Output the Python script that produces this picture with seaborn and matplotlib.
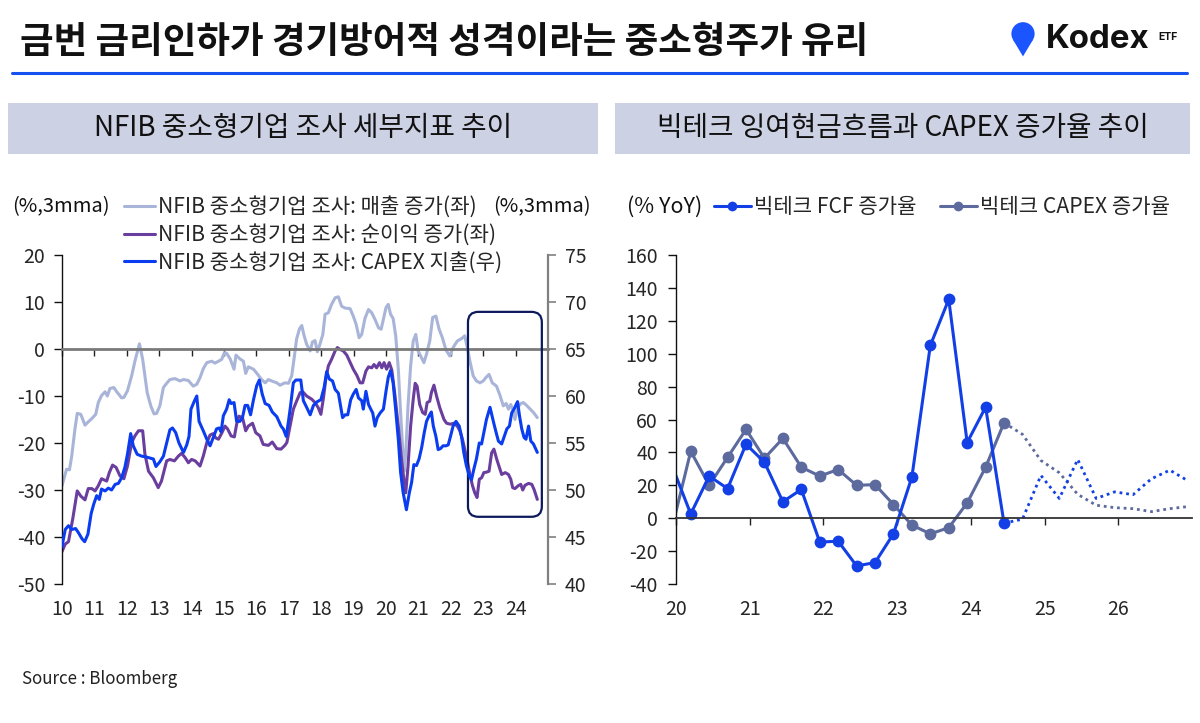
import numpy as np
import pandas as pd
import matplotlib
matplotlib.use("Agg")
from matplotlib import pyplot as plt
from matplotlib.lines import Line2D
from matplotlib.patches import Rectangle, FancyBboxPatch, Polygon, Circle
import seaborn as sns

# ---------------- left panel: NFIB survey (decimal years, 3mma) ----------------
sales_year = [2010.00, 2010.14, 2010.23, 2010.30, 2010.40, 2010.47, 2010.58, 2010.71, 2010.81, 2010.92,
              2011.04, 2011.12, 2011.22, 2011.33, 2011.40, 2011.48, 2011.60, 2011.69, 2011.84, 2011.91,
              2012.02, 2012.15, 2012.25, 2012.39, 2012.49, 2012.63, 2012.74, 2012.84, 2012.92, 2013.02,
              2013.13, 2013.23, 2013.33, 2013.49, 2013.64, 2013.75, 2013.90, 2014.05, 2014.16, 2014.26,
              2014.36, 2014.47, 2014.62, 2014.72, 2014.83, 2014.93, 2015.01, 2015.08, 2015.19, 2015.31,
              2015.37, 2015.49, 2015.60, 2015.67, 2015.75, 2015.91, 2016.04, 2016.16, 2016.27, 2016.37,
              2016.47, 2016.63, 2016.73, 2016.88, 2016.99, 2017.09, 2017.16, 2017.24, 2017.33, 2017.40,
              2017.47, 2017.55, 2017.66, 2017.73, 2017.81, 2017.88, 2017.96, 2018.05, 2018.12, 2018.22,
              2018.32, 2018.43, 2018.53, 2018.63, 2018.74, 2018.89, 2018.99, 2019.08, 2019.17, 2019.25,
              2019.35, 2019.46, 2019.56, 2019.66, 2019.77, 2019.85, 2019.94, 2020.00, 2020.07, 2020.14,
              2020.22, 2020.30, 2020.38, 2020.45, 2020.51, 2020.56, 2020.61, 2020.68, 2020.76, 2020.84,
              2020.92, 2020.99, 2021.07, 2021.17, 2021.25, 2021.35, 2021.44, 2021.54, 2021.64, 2021.74,
              2021.85, 2021.97, 2022.07, 2022.20, 2022.33, 2022.43, 2022.51, 2022.59, 2022.69, 2022.79,
              2022.90, 2023.00, 2023.08, 2023.18, 2023.28, 2023.41, 2023.52, 2023.62, 2023.71, 2023.78,
              2023.85, 2023.93, 2023.98, 2024.06, 2024.16, 2024.24, 2024.34, 2024.45, 2024.55, 2024.67]
sales_val = [-29.1, -25.6, -25.7, -22.8, -17.0, -13.7, -13.9, -16.2, -15.5, -14.8,
             -13.9, -11.4, -9.9, -9.1, -10.0, -8.4, -8.2, -9.1, -10.4, -10.3,
             -8.9, -5.7, -2.6, 1.1, -2.2, -9.3, -12.1, -13.8, -13.7, -12.1,
             -8.2, -7.3, -6.5, -6.3, -6.8, -6.5, -6.7, -7.9, -7.5, -6.1,
             -4.2, -2.9, -2.6, -3.0, -2.6, -2.2, -0.8, -0.9, -2.1, -4.3,
             -1.3, -2.1, -2.6, -5.2, -3.8, -4.3, -5.4, -6.5, -7.2, -6.5,
             -6.8, -7.2, -7.7, -7.2, -7.3, -5.7, -2.2, 2.1, 4.3, 5.0,
             2.9, 1.0, -0.4, 1.5, 1.8, -0.6, 1.0, 3.1, 7.4, 7.7,
             9.5, 10.9, 11.1, 9.1, 8.7, 8.6, 7.0, 5.2, 2.4, 3.1,
             6.5, 8.4, 7.7, 6.3, 4.5, 4.2, 7.0, 8.8, 9.5, 7.4,
             6.5, 2.8, -4.3, -13.5, -20.6, -26.0, -22.1, -12.1, -3.6, 1.7,
             3.1, -0.4, -1.5, -2.9, -1.1, 1.7, 6.7, 7.0, 4.2, 2.4,
             -0.2, -1.5, 0.3, 1.7, 2.2, 2.8, 0.3, -2.6, -5.7, -6.8,
             -7.2, -6.8, -6.1, -5.4, -7.2, -7.9, -9.9, -12.1, -11.6, -12.8,
             -11.8, -13.2, -15.0, -12.5, -11.6, -11.4, -12.0, -12.8, -13.5, -14.6]

profit_year = [2010.00, 2010.10, 2010.20, 2010.33, 2010.47, 2010.58, 2010.71, 2010.81, 2010.92, 2011.02,
               2011.12, 2011.22, 2011.38, 2011.46, 2011.56, 2011.67, 2011.79, 2011.91, 2012.02, 2012.15,
               2012.25, 2012.36, 2012.49, 2012.56, 2012.67, 2012.82, 2012.97, 2013.07, 2013.23, 2013.33,
               2013.47, 2013.59, 2013.69, 2013.80, 2013.90, 2014.00, 2014.11, 2014.26, 2014.36, 2014.47,
               2014.57, 2014.67, 2014.74, 2014.83, 2014.93, 2015.03, 2015.11, 2015.22, 2015.32, 2015.39,
               2015.46, 2015.57, 2015.67, 2015.75, 2015.88, 2015.98, 2016.11, 2016.21, 2016.37, 2016.49,
               2016.63, 2016.76, 2016.88, 2016.94, 2017.04, 2017.14, 2017.24, 2017.35, 2017.43, 2017.55,
               2017.71, 2017.81, 2017.91, 2017.99, 2018.07, 2018.14, 2018.22, 2018.32, 2018.43, 2018.50,
               2018.58, 2018.68, 2018.79, 2018.89, 2018.99, 2019.10, 2019.20, 2019.28, 2019.38, 2019.46,
               2019.56, 2019.63, 2019.71, 2019.80, 2019.87, 2019.94, 2020.02, 2020.10, 2020.18, 2020.27,
               2020.38, 2020.48, 2020.55, 2020.61, 2020.68, 2020.76, 2020.84, 2020.90, 2020.96, 2021.04,
               2021.13, 2021.21, 2021.27, 2021.35, 2021.40, 2021.48, 2021.56, 2021.66, 2021.79, 2021.87,
               2021.99, 2022.09, 2022.20, 2022.28, 2022.36, 2022.43, 2022.51, 2022.59, 2022.67, 2022.74,
               2022.81, 2022.88, 2022.95, 2023.02, 2023.10, 2023.18, 2023.26, 2023.33, 2023.42, 2023.50,
               2023.57, 2023.68, 2023.78, 2023.85, 2023.91, 2023.98, 2024.08, 2024.16, 2024.22, 2024.29,
               2024.40, 2024.50, 2024.57, 2024.67]
profit_val = [-43.1, -41.5, -41.0, -36.2, -30.2, -31.3, -32.1, -29.7, -29.7, -30.2,
              -29.1, -27.6, -28.1, -26.3, -24.7, -25.2, -27.0, -27.6, -24.9, -19.9,
              -18.5, -17.4, -17.4, -22.4, -26.0, -27.4, -29.5, -28.1, -23.8, -23.5,
              -23.8, -22.8, -22.2, -23.1, -24.2, -23.5, -23.8, -24.9, -22.8, -19.9,
              -18.3, -18.0, -18.9, -19.2, -17.9, -16.4, -17.0, -18.5, -18.7, -16.0,
              -14.3, -14.6, -17.4, -16.4, -15.8, -17.8, -18.5, -20.3, -20.5, -19.8,
              -21.2, -21.3, -20.5, -19.9, -16.4, -12.8, -11.1, -9.3, -9.1, -10.0,
              -10.7, -11.4, -12.5, -13.9, -10.4, -6.5, -3.6, -2.2, -0.4, 0.3,
              -0.1, -0.4, -1.3, -2.8, -4.3, -5.6, -7.2, -7.2, -4.7, -3.8,
              -4.0, -3.3, -4.0, -2.9, -4.0, -2.9, -4.3, -2.9, -4.5, -9.5,
              -16.5, -23.5, -27.7, -30.6, -24.9, -16.4, -10.7, -7.3, -7.9, -11.8,
              -13.5, -13.9, -11.4, -11.1, -9.3, -7.7, -10.0, -12.5, -15.0, -15.8,
              -16.0, -15.8, -16.4, -17.4, -19.2, -21.3, -23.8, -26.7, -29.1, -30.6,
              -31.6, -27.7, -27.4, -26.3, -26.2, -26.0, -22.1, -21.3, -23.5, -25.2,
              -26.7, -26.3, -26.7, -27.7, -29.5, -29.7, -29.1, -28.8, -30.0, -29.0,
              -28.6, -28.8, -29.9, -32.0]

capex_year = [2010.00, 2010.10, 2010.20, 2010.30, 2010.42, 2010.50, 2010.62, 2010.70, 2010.80, 2010.90,
              2010.98, 2011.07, 2011.15, 2011.22, 2011.33, 2011.43, 2011.53, 2011.64, 2011.74, 2011.84,
              2011.94, 2012.02, 2012.12, 2012.20, 2012.32, 2012.46, 2012.61, 2012.71, 2012.82, 2012.90,
              2013.02, 2013.13, 2013.23, 2013.33, 2013.41, 2013.51, 2013.61, 2013.75, 2013.85, 2013.92,
              2013.98, 2014.09, 2014.16, 2014.23, 2014.36, 2014.47, 2014.57, 2014.67, 2014.77, 2014.85,
              2014.91, 2014.98, 2015.08, 2015.16, 2015.22, 2015.31, 2015.39, 2015.49, 2015.57, 2015.65,
              2015.73, 2015.82, 2015.91, 2016.01, 2016.09, 2016.18, 2016.27, 2016.39, 2016.49, 2016.63,
              2016.76, 2016.83, 2016.92, 2016.99, 2017.06, 2017.14, 2017.22, 2017.37, 2017.45, 2017.55,
              2017.66, 2017.76, 2017.88, 2017.99, 2018.09, 2018.17, 2018.25, 2018.35, 2018.43, 2018.53,
              2018.60, 2018.66, 2018.74, 2018.82, 2018.91, 2018.99, 2019.08, 2019.15, 2019.25, 2019.30,
              2019.38, 2019.46, 2019.53, 2019.59, 2019.66, 2019.73, 2019.82, 2019.92, 2020.00, 2020.07,
              2020.14, 2020.22, 2020.30, 2020.38, 2020.45, 2020.53, 2020.63, 2020.72, 2020.79, 2020.86,
              2020.94, 2021.02, 2021.10, 2021.18, 2021.25, 2021.33, 2021.40, 2021.46, 2021.54, 2021.61,
              2021.68, 2021.76, 2021.85, 2021.92, 2021.99, 2022.07, 2022.16, 2022.26, 2022.33, 2022.40,
              2022.48, 2022.57, 2022.64, 2022.71, 2022.79, 2022.88, 2022.95, 2023.02, 2023.10, 2023.21,
              2023.32, 2023.40, 2023.47, 2023.57, 2023.65, 2023.73, 2023.81, 2023.88, 2023.95, 2024.06,
              2024.12, 2024.19, 2024.26, 2024.32, 2024.40, 2024.47, 2024.55, 2024.67]
capex_val = [44.0, 45.8, 46.2, 45.8, 45.9, 45.5, 44.8, 44.5, 45.3, 47.5,
             48.5, 49.4, 49.0, 50.1, 49.9, 50.2, 50.0, 50.6, 50.7, 51.3,
             52.4, 53.8, 56.0, 54.7, 53.8, 53.6, 53.5, 53.4, 53.3, 52.5,
             53.0, 53.6, 55.0, 56.4, 56.6, 56.1, 55.0, 54.0, 54.8, 55.7,
             58.6, 59.5, 60.0, 57.3, 56.3, 55.4, 54.7, 55.6, 56.5, 56.6,
             56.2, 57.9, 58.6, 59.6, 59.2, 59.3, 57.3, 57.3, 57.7, 59.0,
             59.0, 58.0, 59.6, 61.1, 61.7, 60.2, 59.2, 59.0, 58.3, 57.8,
             56.8, 56.5, 55.7, 57.3, 59.1, 61.4, 61.7, 61.7, 59.5, 58.8,
             58.0, 59.0, 59.4, 59.6, 60.9, 62.6, 61.8, 61.6, 60.7, 60.3,
             58.9, 57.7, 58.0, 58.0, 59.6, 60.2, 60.7, 59.8, 59.5, 58.6,
             60.5, 59.1, 58.6, 58.2, 56.8, 57.7, 58.2, 58.6, 60.5, 62.0,
             62.7, 61.4, 58.5, 55.4, 51.9, 49.7, 47.9, 49.7, 50.8, 52.7,
             52.6, 53.3, 54.5, 56.1, 57.3, 57.9, 58.3, 56.8, 55.7, 54.3,
             54.4, 54.7, 54.7, 54.8, 55.7, 56.8, 57.3, 56.8, 55.7, 54.0,
             52.6, 51.5, 51.1, 52.2, 53.3, 55.0, 54.9, 56.1, 57.5, 58.8,
             57.2, 56.1, 55.2, 54.9, 55.7, 56.5, 56.8, 58.2, 58.6, 59.4,
             57.9, 56.5, 55.6, 55.4, 56.8, 55.2, 54.9, 54.0]

left_years = list(range(2010, 2025))
left_labels = [str(y)[2:] for y in left_years]

# ---------------- right panel: big tech FCF / CAPEX growth (% YoY) ----------------
bt_year = [2019.95, 2020.20, 2020.45, 2020.70, 2020.95, 2021.20, 2021.45, 2021.70, 2021.95, 2022.20,
           2022.45, 2022.70, 2022.95, 2023.20, 2023.45, 2023.70, 2023.95, 2024.20, 2024.45]
fcf_val = [31.4, 2.6, 25.6, 18.0, 45.0, 34.0, 10.0, 17.5, -14.5, -14.0,
           -29.0, -27.0, -9.5, 25.0, 105.0, 133.0, 46.0, 67.5, -3.0]
bt_capex_val = [-5.2, 40.7, 20.0, 37.0, 54.0, 36.5, 48.5, 31.0, 25.6, 29.6,
                20.0, 20.4, 8.3, -4.2, -9.5, -5.8, 9.3, 31.0, 58.0]
fc_year = [2024.45, 2024.70, 2024.95, 2025.20, 2025.45, 2025.70, 2025.95, 2026.20, 2026.45, 2026.70, 2026.95]
fcf_fc = [-3.0, -0.6, 26.0, 12.0, 35.7, 12.0, 16.0, 14.3, 24.0, 29.2, 22.6]
bt_capex_fc = [58.0, 51.0, 35.1, 27.6, 14.5, 7.9, 6.4, 5.8, 4.0, 5.8, 7.1]
right_years = list(range(2020, 2027))
right_labels = [str(y)[2:] for y in right_years]

C_SALES = "#a9b4d9"
C_PROFIT = "#6a3e9e"
C_CAPEX = "#0b3df0"
C_FCF = "#1240e6"
C_BTCAPEX = "#5d6a9d"

sns.set_theme(style="ticks")
plt.rcParams['font.family'] = ['Noto Sans CJK KR', 'DejaVu Sans']
plt.rcParams['axes.unicode_minus'] = False

W, H = 1200, 723
fig = plt.figure(figsize=(12, 7.23), dpi=100)


def fx(px):
    return px / W


def fy(py):
    return 1 - py / H


# header
fig.text(fx(20), fy(42), "금번 금리인하가 경기방어적 성격이라는 중소형주가 유리",
         fontsize=26.3, fontweight='bold', va='center', ha='left', color='#111111')
fig.add_artist(Line2D([fx(12), fx(1187)], [fy(73), fy(73)], color='#1652f0', lw=2.2))
fig.text(fx(1046), fy(40), "Kodex", fontsize=23.8, fontweight='bold', va='center', ha='left',
         color='#111111', family=['Inter', 'DejaVu Sans'])
fig.text(fx(1158), fy(37), "ETF", fontsize=7.5, fontweight='bold', va='center', ha='left',
         color='#111111', family=['Inter', 'DejaVu Sans'])
logo = fig.add_axes([fx(1008), fy(57), fx(30), 36 / H])
logo.set_xlim(-1.2, 1.2)
logo.set_ylim(-2.0, 1.1)
logo.set_aspect('equal')
logo.axis('off')
logo.add_patch(Circle((0, 0), 1.0, color='#1a55ff', lw=0))
logo.add_patch(Polygon([(-0.85, -0.53), (0.85, -0.53), (0, -1.95)], closed=True, color='#1a55ff', lw=0))

# panel title bars
for x0, x1, txt in [(8, 598, "NFIB 중소형기업 조사 세부지표 추이"),
                    (615, 1190, "빅테크 잉여현금흐름과 CAPEX 증가율 추이")]:
    fig.add_artist(Rectangle((fx(x0), fy(154)), fx(x1 - x0), 51 / H,
                             transform=fig.transFigure, color='#cdd1e4', lw=0))
    fig.text(fx((x0 + x1) / 2), fy(128), txt, fontsize=20, ha='center', va='center', color='#111111')

fig.text(fx(22), fy(679), "Source : Bloomberg", fontsize=12.2, ha='left', va='center', color='#222222')

TICK_FS = 14
LEG_FS = 15.2

# ---------------- left panel ----------------
ax = fig.add_axes([fx(62), fy(584), fx(548 - 62), 329 / H])
ax2 = ax.twinx()
df_s = pd.DataFrame({'year': sales_year, 'v': sales_val})
df_p = pd.DataFrame({'year': profit_year, 'v': profit_val})
df_c = pd.DataFrame({'year': capex_year, 'v': capex_val})
sns.lineplot(data=df_s, x='year', y='v', ax=ax, color=C_SALES, lw=2.2, legend=False, errorbar=None)
sns.lineplot(data=df_p, x='year', y='v', ax=ax, color=C_PROFIT, lw=2.2, legend=False, errorbar=None)
sns.lineplot(data=df_c, x='year', y='v', ax=ax2, color=C_CAPEX, lw=2.2, legend=False, errorbar=None)

ax.set_xlim(2010, 2025)
ax.set_ylim(-50, 20)
ax2.set_ylim(40, 75)
ax.set_yticks(range(-50, 21, 10))
ax2.set_yticks(range(40, 76, 5))
ax.set_xticks(left_years)
ax.set_xticklabels(left_labels)
for a in (ax, ax2):
    a.set_xlabel('')
    a.set_ylabel('')
    a.patch.set_visible(False)
    a.spines['top'].set_visible(False)
ax.spines['right'].set_visible(False)
ax2.spines['left'].set_visible(False)
ax2.spines['bottom'].set_visible(False)
ax.spines['left'].set_color('#111111')
ax.spines['left'].set_linewidth(1.0)
ax2.spines['right'].set_color('#808080')
ax2.spines['right'].set_linewidth(1.6)
ax.spines['bottom'].set_position(('data', 0))
ax.spines['bottom'].set_color('#7a7a7a')
ax.spines['bottom'].set_linewidth(2.0)
ax.tick_params(axis='x', direction='out', length=5, width=1, color='#222222',
               labelsize=TICK_FS, pad=175)
ax.tick_params(axis='y', direction='out', length=6, width=1, color='#111111',
               labelsize=TICK_FS, pad=6)
ax2.tick_params(axis='y', direction='out', length=6, width=1.2, color='#808080',
                labelsize=TICK_FS, pad=6)

ax.add_patch(FancyBboxPatch((2022.53, -35.7), 2024.81 - 2022.53, 7.9 + 35.7,
                            boxstyle="round,pad=0,rounding_size=0.32", mutation_aspect=6.9,
                            fill=False, ec='#0c1a5c', lw=1.6, zorder=5))

fig.text(fx(12), fy(207), "(%,3mma)", fontsize=14.5, ha='left', va='center', color='#111111')
fig.text(fx(591), fy(207), "(%,3mma)", fontsize=14.5, ha='right', va='center', color='#111111')
left_handles = [Line2D([], [], color=C_SALES, lw=2.2),
                Line2D([], [], color=C_PROFIT, lw=2.2),
                Line2D([], [], color=C_CAPEX, lw=2.2)]
left_texts = ["NFIB 중소형기업 조사: 매출 증가(좌)",
              "NFIB 중소형기업 조사: 순이익 증가(좌)",
              "NFIB 중소형기업 조사: CAPEX 지출(우)"]
fig.legend(left_handles, left_texts, loc='upper left', bbox_to_anchor=(fx(124), fy(196)),
           frameon=False, fontsize=LEG_FS, handlelength=1.45, handletextpad=0.15,
           labelspacing=0.28, borderpad=0, borderaxespad=0)

# ---------------- right panel ----------------
bx = fig.add_axes([fx(676), fy(584), fx(1192 - 676), 329 / H])
df_f = pd.DataFrame({'year': bt_year, 'v': fcf_val})
df_b = pd.DataFrame({'year': bt_year, 'v': bt_capex_val})
df_ff = pd.DataFrame({'year': fc_year, 'v': fcf_fc})
df_bf = pd.DataFrame({'year': fc_year, 'v': bt_capex_fc})
mk = list(range(1, len(bt_year)))
sns.lineplot(data=df_b, x='year', y='v', ax=bx, color=C_BTCAPEX, lw=2.2, marker='o', markersize=8.5,
             markeredgewidth=0, markevery=mk, legend=False, errorbar=None)
sns.lineplot(data=df_f, x='year', y='v', ax=bx, color=C_FCF, lw=2.2, marker='o', markersize=8.5,
             markeredgewidth=0, markevery=mk, legend=False, errorbar=None)
sns.lineplot(data=df_bf, x='year', y='v', ax=bx, color=C_BTCAPEX, lw=2.0, ls=(0, (1, 1.4)),
             legend=False, errorbar=None)
sns.lineplot(data=df_ff, x='year', y='v', ax=bx, color=C_FCF, lw=2.0, ls=(0, (1, 1.4)),
             legend=False, errorbar=None)
bx.set_xlim(2020, 2027)
bx.set_ylim(-40, 160)
bx.set_yticks(range(-40, 161, 20))
bx.set_xticks(right_years)
bx.set_xticklabels(right_labels)
bx.set_xlabel('')
bx.set_ylabel('')
bx.patch.set_visible(False)
bx.spines['top'].set_visible(False)
bx.spines['right'].set_visible(False)
bx.spines['bottom'].set_position(('data', 0))
bx.spines['bottom'].set_color('#333333')
bx.spines['bottom'].set_linewidth(1.3)
bx.spines['left'].set_color('#111111')
bx.spines['left'].set_linewidth(1.0)
bx.tick_params(axis='x', direction='out', length=5, width=1, color='#222222',
               labelsize=TICK_FS, pad=53)
bx.tick_params(axis='y', direction='out', length=6, width=1, color='#111111',
               labelsize=TICK_FS, pad=7)

fig.text(fx(627), fy(207), "(% YoY)", fontsize=15.5, ha='left', va='center', color='#111111')
right_handles = [Line2D([], [], color=C_FCF, lw=2.2, marker='o', markersize=7, markeredgewidth=0),
                 Line2D([], [], color=C_BTCAPEX, lw=2.2, marker='o', markersize=7, markeredgewidth=0)]
fig.legend(right_handles, ["빅테크 FCF 증가율", "빅테크 CAPEX 증가율"], loc='center left',
           bbox_to_anchor=(fx(714), fy(207)), ncol=2, frameon=False, fontsize=LEG_FS,
           handlelength=1.75, handletextpad=0.15, columnspacing=1.1, borderpad=0, borderaxespad=0)

fig.savefig("out.png", dpi=100)
